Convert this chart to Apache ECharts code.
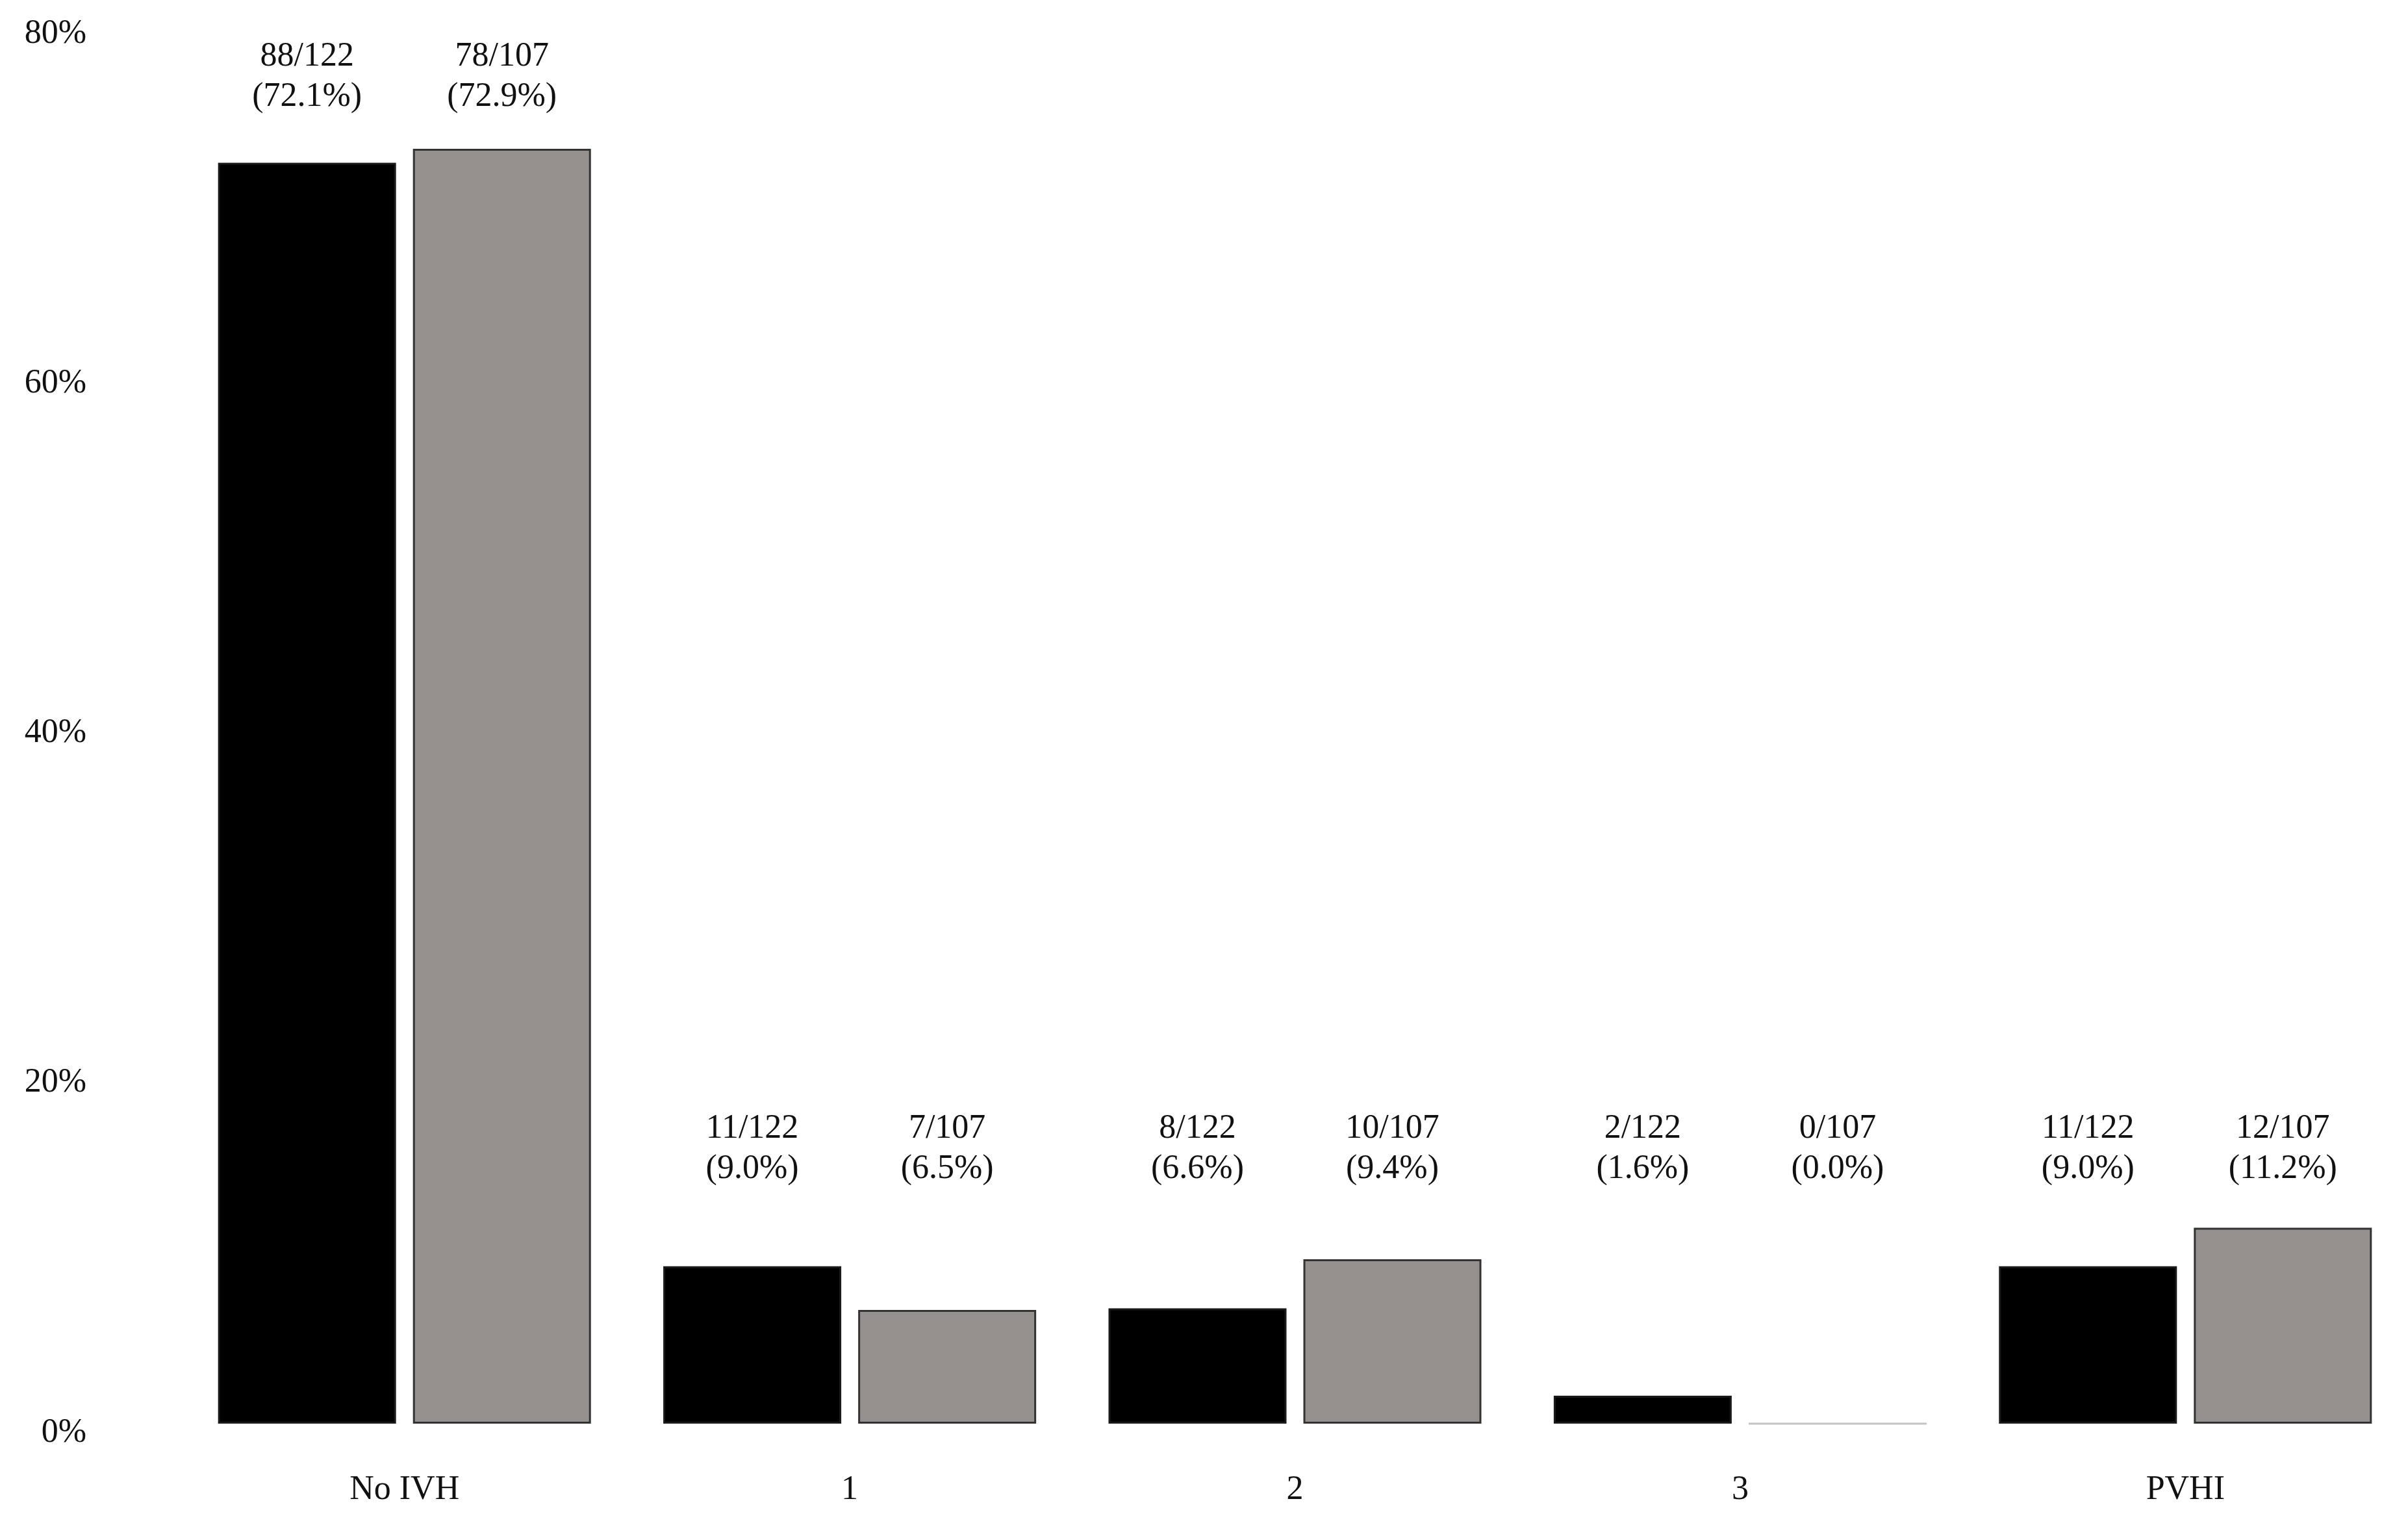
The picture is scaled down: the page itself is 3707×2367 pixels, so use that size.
<!DOCTYPE html>
<html>
<head>
<meta charset="utf-8">
<script src="https://cdn.jsdelivr.net/npm/echarts@6/dist/echarts.min.js"></script>
<style>
html,body{margin:0;padding:0;background:#fff;}
#chart{width:3707px;height:2367px;}
</style>
</head>
<body>
<div id="chart"></div>
<script>
// ---- data ----
const categories = ['No IVH', '1', '2', '3', 'PVHI'];
const groupANum = [88, 11, 8, 2, 11];
const groupADen = [122, 122, 122, 122, 122];
const groupAPct = [72.1, 9.0, 6.6, 1.6, 9.0];
const groupBNum = [78, 7, 10, 0, 12];
const groupBDen = [107, 107, 107, 107, 107];
const groupBPct = [72.9, 6.5, 9.4, 0.0, 11.2];
const yTicks = [0, 20, 40, 60, 80];

// ---- chart ----
const FONT = '"Liberation Serif", "DejaVu Serif", serif';
const chart = echarts.init(document.getElementById('chart'));

function labelLevel(cat) { return cat === 'No IVH' ? 77.0 : 15.7; }

function makeSeries(name, pct, num, den, fill, border) {
  return {
    name: name,
    type: 'bar',
    barWidth: 274,
    barGap: '9.5%',
    data: pct.map(function (v) {
      const d = { value: v };
      if (v === 0) d.itemStyle = { borderColor: '#c4c4c4' };
      return d;
    }),
    itemStyle: { color: fill, borderColor: border, borderWidth: 3 },
    emphasis: { disabled: true },
    markPoint: {
      symbol: 'circle',
      symbolSize: 1,
      itemStyle: { color: 'rgba(0,0,0,0)' },
      silent: true,
      label: {
        show: true,
        position: 'inside',
        color: '#111',
        fontFamily: FONT,
        fontSize: 52,
        lineHeight: 62,
        align: 'center',
        verticalAlign: 'middle',
        formatter: function (p) { return p.name; }
      },
      data: categories.map(function (c, i) {
        return {
          name: num[i] + '/' + den[i] + '\n(' + pct[i].toFixed(1) + '%)',
          coord: [c, labelLevel(c)]
        };
      })
    }
  };
}

chart.setOption({
  animation: false,
  backgroundColor: '#ffffff',
  grid: { left: 280, right: 0, top: 38, bottom: 176 },
  xAxis: {
    type: 'category',
    data: categories,
    axisLine: { show: false },
    axisTick: { show: false },
    axisLabel: { color: '#111', fontFamily: FONT, fontSize: 52, margin: 76 }
  },
  yAxis: {
    type: 'value',
    min: yTicks[0],
    max: yTicks[yTicks.length - 1],
    interval: 20,
    splitLine: { show: false },
    axisLine: { show: false },
    axisTick: { show: false },
    axisLabel: {
      color: '#111', fontFamily: FONT, fontSize: 52, margin: 147,
      verticalAlign: 'top', lineHeight: 28,
      formatter: function (v) { return v + '%'; }
    }
  },
  series: [
    makeSeries('Group A', groupAPct, groupANum, groupADen, '#000000', '#1a1a1a'),
    makeSeries('Group B', groupBPct, groupBNum, groupBDen, '#96918f', '#333333')
  ]
});
</script>
</body>
</html>
